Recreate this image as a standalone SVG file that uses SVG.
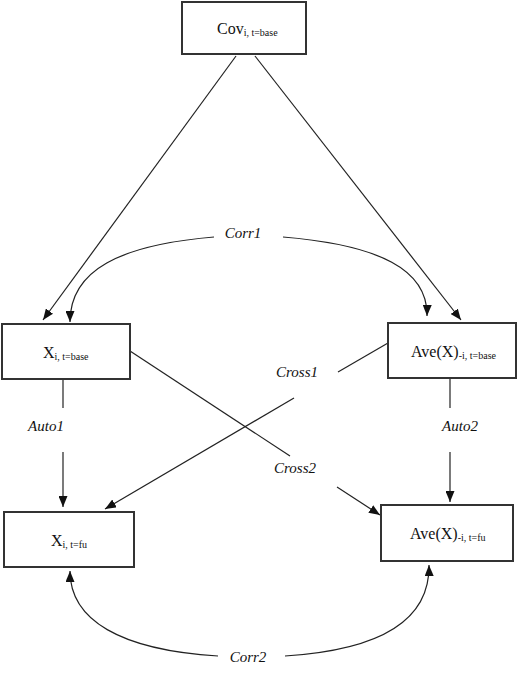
<svg xmlns="http://www.w3.org/2000/svg" width="518" height="685" viewBox="0 0 518 685">
<style>
.box{fill:#fff;stroke:#333;stroke-width:2}
.lbl{font-family:"Liberation Serif","Times New Roman",serif;font-size:16px;fill:#111}
.sub{font-size:10px}
.ital{font-family:"Liberation Serif","Times New Roman",serif;font-style:italic;font-size:15px;fill:#111}
.ln{fill:none;stroke:#222;stroke-width:1.2}
.arr{fill:none;stroke:#222;stroke-width:1.2;marker-end:url(#ah)}
</style>
<defs>
<marker id="ah" markerUnits="userSpaceOnUse" markerWidth="11" markerHeight="9" refX="11" refY="4.5" orient="auto">
<path d="M0,0 L11,4.5 L0,9 z" fill="#111"/>
</marker>
</defs>
<rect width="518" height="685" fill="#fff"/>
<g id="connectors">
<line class="arr" x1="236" y1="56" x2="43" y2="320"/>
<line class="arr" x1="255" y1="56" x2="461" y2="320"/>
<path class="arr" d="M214,237 C120,245 70,270 70,322"/>
<path class="arr" d="M283,237 C380,245 428,270 427,316"/>
<line class="ln" x1="63" y1="380" x2="63" y2="408"/>
<line class="arr" x1="63" y1="452" x2="63" y2="507"/>
<line class="ln" x1="450" y1="378" x2="450" y2="408"/>
<line class="arr" x1="450" y1="452" x2="450" y2="502"/>
<line class="ln" x1="388" y1="343" x2="338" y2="372"/>
<line class="arr" x1="294" y1="398" x2="105" y2="509"/>
<line class="ln" x1="130" y1="351" x2="290" y2="456"/>
<line class="arr" x1="337" y1="487" x2="380" y2="515"/>
<path class="arr" d="M218,656 C120,650 70,620 70,571"/>
<path class="arr" d="M285,656 C380,650 430,620 429,565"/>
<text class="ital" x="243" y="238" text-anchor="middle" font-family="Liberation Serif" font-style="italic">Corr1</text>
<text class="ital" x="248" y="662" text-anchor="middle" font-family="Liberation Serif" font-style="italic">Corr2</text>
<text class="ital" x="297" y="377" text-anchor="middle" font-family="Liberation Serif" font-style="italic">Cross1</text>
<text class="ital" x="295" y="473" text-anchor="middle" font-family="Liberation Serif" font-style="italic">Cross2</text>
<text class="ital" x="46" y="431" text-anchor="middle" font-family="Liberation Serif" font-style="italic">Auto1</text>
<text class="ital" x="460" y="431" text-anchor="middle" font-family="Liberation Serif" font-style="italic">Auto2</text>
</g>
<g id="cov">
<rect class="box" x="182" y="2" width="124" height="52"/>
<text class="lbl" x="217" y="34">Cov<tspan class="sub" dy="1.5">i, t=base</tspan></text>
</g>
<g id="x_base">
<rect class="box" x="2" y="324" width="128" height="55"/>
<text class="lbl" x="43" y="358">X<tspan class="sub" dy="1.5">i, t=base</tspan></text>
</g>
<g id="ave_base">
<rect class="box" x="388" y="323" width="128" height="55"/>
<text class="lbl" x="411" y="357">Ave(X)<tspan class="sub" dy="1.5">-i, t=base</tspan></text>
</g>
<g id="x_fu">
<rect class="box" x="4" y="512" width="130" height="55"/>
<text class="lbl" x="51" y="546">X<tspan class="sub" dy="1.5">i, t=fu</tspan></text>
</g>
<g id="ave_fu">
<rect class="box" x="381" y="505" width="132" height="56"/>
<text class="lbl" x="410" y="539">Ave(X)<tspan class="sub" dy="1.5">-i, t=fu</tspan></text>
</g>
</svg>
